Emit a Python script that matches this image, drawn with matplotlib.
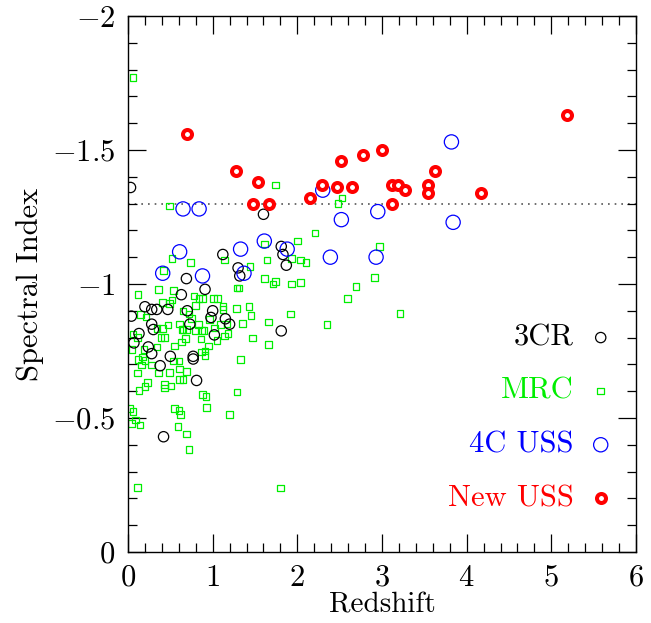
import numpy as np
import matplotlib.pyplot as plt
from matplotlib.ticker import MultipleLocator, FuncFormatter
plt.switch_backend('agg')

plt.rcParams['font.family'] = ['cmr10', 'DejaVu Serif']
plt.rcParams['mathtext.fontset'] = 'cm'
plt.rcParams['axes.formatter.use_mathtext'] = True

#3CR sources
cr3_z = [0.03, 1.60, 1.12, 1.81, 1.83, 1.87, 1.30, 1.32, 0.69, 0.91, 0.63, 0.20,
	0.04, 0.28, 0.34, 0.47, 0.70, 1.00, 0.98, 1.15, 1.20, 0.73, 0.28, 0.30,
	0.13, 1.02, 0.07, 0.24, 0.28, 0.50, 0.77, 0.77, 0.38, 1.81, 0.81, 0.42]
cr3_alpha = [-1.36, -1.26, -1.11, -1.14, -1.11, -1.07, -1.06, -1.03, -1.02, -0.98, -0.96, -0.915,
	-0.88, -0.905, -0.905, -0.905, -0.90, -0.90, -0.875, -0.87, -0.85, -0.85, -0.85, -0.83,
	-0.815, -0.81, -0.78, -0.765, -0.74, -0.73, -0.73, -0.72, -0.695, -0.825, -0.64, -0.43]

#MRC sources
mrc_z = [0.06, 1.74, 0.49, 2.48, 2.53, 2.21, 2.00, 1.61, 2.97, 0.52,
	0.74, 1.14, 1.64, 1.93, 2.04, 2.10, 0.42, 1.44, 1.61, 2.91,
	1.74, 1.71, 2.04, 1.93, 2.69, 1.29, 1.31, 0.36, 0.54, 0.12,
	0.78, 0.84, 0.88, 1.01, 1.06, 2.59, 0.52, 0.41, 0.49, 0.80,
	1.12, 1.12, 1.43, 1.28, 0.15, 0.21, 0.65, 0.72, 0.75, 1.45,
	1.92, 3.21, 0.96, 1.09, 1.17, 1.35, 1.66, 0.47, 0.41, 0.61,
	0.64, 0.83, 2.35, 0.06, 0.11, 0.34, 0.39, 0.43, 0.65, 0.69,
	0.68, 0.80, 0.87, 0.90, 0.86, 1.02, 1.14, 1.18, 1.05, 1.47,
	1.66, 0.05, 0.19, 0.34, 0.55, 0.63, 0.95, 0.91, 0.87, 0.91,
	0.12, 0.17, 0.20, 0.28, 0.16, 0.54, 0.60, 1.33, 0.11, 0.36,
	0.49, 0.61, 0.69, 0.23, 0.20, 0.43, 0.43, 0.51, 0.61, 0.65,
	0.13, 0.88, 0.92, 1.29, 0.02, 0.06, 0.55, 0.60, 0.62, 0.93,
	1.20, 0.09, 0.04, 0.14, 0.59, 0.69, 0.72, 0.11, 1.80]
mrc_alpha = [-1.77, -1.37, -1.29, -1.30, -1.32, -1.19, -1.16, -1.15, -1.14, -1.095,
	-1.08, -1.09, -1.09, -1.095, -1.09, -1.08, -1.05, -1.065, -1.02, -1.025,
	-1.01, -1.00, -1.005, -1.00, -0.99, -0.985, -0.985, -0.98, -0.975, -0.96,
	-0.955, -0.945, -0.945, -0.945, -0.945, -0.945, -0.94, -0.93, -0.928, -0.92,
	-0.915, -0.905, -0.915, -0.908, -0.886, -0.876, -0.90, -0.888, -0.871, -0.883,
	-0.888, -0.89, -0.868, -0.848, -0.851, -0.853, -0.858, -0.846, -0.834, -0.851,
	-0.831, -0.848, -0.848, -0.813, -0.801, -0.833, -0.801, -0.801, -0.83, -0.83,
	-0.797, -0.826, -0.826, -0.826, -0.794, -0.836, -0.806, -0.816, -0.789, -0.799,
	-0.774, -0.756, -0.756, -0.764, -0.769, -0.784, -0.769, -0.749, -0.746, -0.734,
	-0.719, -0.727, -0.714, -0.697, -0.697, -0.712, -0.712, -0.719, -0.667, -0.667,
	-0.669, -0.682, -0.674, -0.632, -0.617, -0.624, -0.612, -0.619, -0.644, -0.644,
	-0.602, -0.587, -0.58, -0.597, -0.535, -0.525, -0.535, -0.527, -0.512, -0.54,
	-0.512, -0.493, -0.48, -0.473, -0.468, -0.44, -0.383, -0.241, -0.239]

#4C USS sources
uss4c_z = [0.41, 0.61, 0.65, 0.84, 0.88, 1.33, 1.37, 1.61, 1.88, 2.30, 2.39, 2.52, 2.93, 2.95, 3.82, 3.84]
uss4c_alpha = [-1.04, -1.12, -1.28, -1.28, -1.03, -1.13, -1.04, -1.16, -1.13, -1.35, -1.10, -1.24, -1.10, -1.27, -1.53, -1.23]

#New USS sources
new_z = [0.70, 1.27, 1.48, 1.54, 1.67, 2.15, 2.29, 2.47, 2.52, 2.65, 2.78,
	3.00, 3.12, 3.12, 3.19, 3.27, 3.54, 3.54, 3.62, 4.17, 5.19]
new_alpha = [-1.56, -1.42, -1.30, -1.38, -1.30, -1.32, -1.37, -1.36, -1.46, -1.36, -1.48,
	-1.50, -1.30, -1.37, -1.37, -1.35, -1.37, -1.34, -1.42, -1.34, -1.63]

cut_alpha = -1.3

names = ['3CR', 'MRC', '4C USS', 'New USS']
colors = ['black', '#00ee00', 'blue', 'red']

fig = plt.figure(figsize=(6.51, 6.23), dpi=100)
ax = fig.add_axes([0.1966, 0.114, 0.7804, 0.8604])

#styles for each sample
styles = [
	dict(marker='o', s=55, facecolors='none', edgecolors=colors[0], linewidths=0.9),
	dict(marker='s', s=22, facecolors='none', edgecolors=colors[1], linewidths=0.9),
	dict(marker='o', s=105, facecolors='none', edgecolors=colors[2], linewidths=0.9),
	dict(marker='o', s=42, facecolors='white', edgecolors=colors[3], linewidths=2.9),
]

ax.plot([0, 6], [cut_alpha, cut_alpha], linestyle=(0, (1, 3)), color='#555555', lw=1.2, zorder=1)

ax.scatter(cr3_z, cr3_alpha, zorder=3, **styles[0])
ax.scatter(mrc_z, mrc_alpha, zorder=2, **styles[1])
ax.scatter(uss4c_z, uss4c_alpha, zorder=3, **styles[2])
ax.scatter(new_z, new_alpha, zorder=4, **styles[3])

#legend drawn by hand
rows = [0.4, 0.3, 0.2, 0.1]
for name, col, st, yy in zip(names, colors, styles, rows):
	ax.text(0.877, yy, name, color=col, fontsize=22, ha='right', va='center', transform=ax.transAxes)
	ax.scatter([0.9305], [yy], transform=ax.transAxes, clip_on=False, zorder=5, **st)

ax.set_xlim(0, 6)
ax.set_ylim(0, -2)
ax.xaxis.set_major_locator(MultipleLocator(1))
ax.xaxis.set_minor_locator(MultipleLocator(0.2))
ax.yaxis.set_major_locator(MultipleLocator(0.5))
ax.yaxis.set_minor_locator(MultipleLocator(0.1))
fmt = FuncFormatter(lambda v, p: '$%g$' % v)
ax.xaxis.set_major_formatter(fmt)
ax.yaxis.set_major_formatter(fmt)
ax.tick_params(which='both', direction='in', top=True, right=True, width=0.9, labelsize=22)
ax.tick_params(which='major', length=13, pad=9)
ax.tick_params(which='minor', length=6.5)
for sp in ax.spines.values():
	sp.set_linewidth(1.0)

ax.set_xlabel('Redshift', fontsize=21, labelpad=0)
ax.set_ylabel('Spectral Index', fontsize=22, labelpad=6)

plt.savefig('out.png', dpi=100)
